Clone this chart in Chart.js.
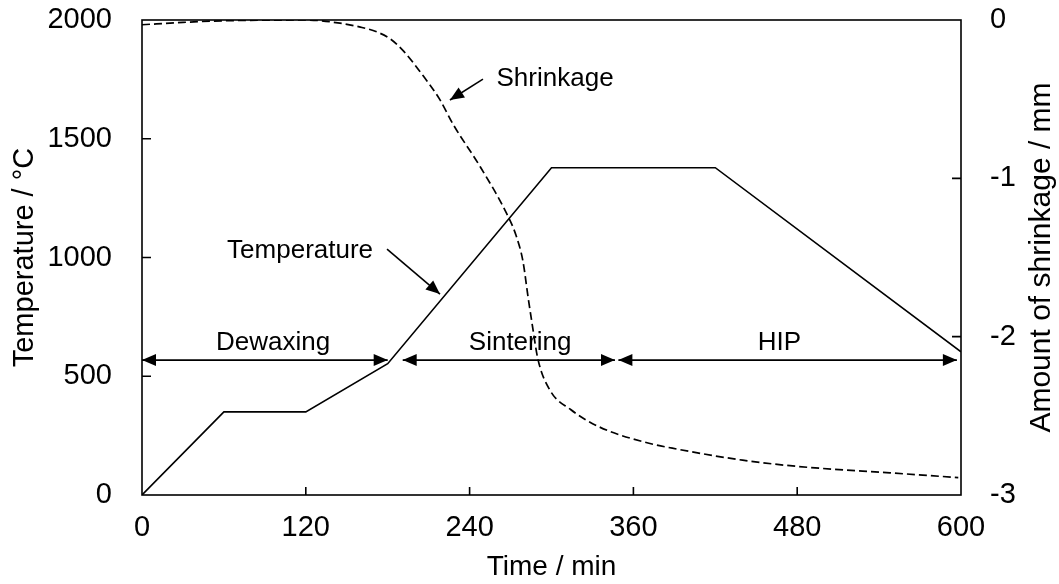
<!DOCTYPE html>
<html>
<head>
<meta charset="utf-8">
<script src="https://cdn.jsdelivr.net/npm/chart.js@4"></script>
<style>
  body { margin: 0; background: #fff; }
</style>
</head>
<body>
<canvas id="myChart" width="1059" height="584"></canvas>
<script>
// temperature profile (min, °C)
const tempTime = [0, 60, 120, 180, 300, 420, 600];
const tempValue = [0, 350, 350, 553, 1378, 1378, 603];

// shrinkage curve (min, mm)
const shrinkTime = [0, 30, 60, 120, 145, 160, 172, 182, 192, 204, 218, 228, 248, 267, 274, 279, 283, 286, 290, 299, 314, 335, 370, 392, 440, 481, 548, 598];
const shrinkValue = [-0.03, -0.015, -0.005, 0, -0.02, -0.045, -0.075, -0.12, -0.2, -0.33, -0.5, -0.66, -0.93, -1.22, -1.36, -1.52, -1.76, -1.93, -2.14, -2.34, -2.46, -2.57, -2.67, -2.71, -2.78, -2.82, -2.86, -2.89];

// process stages (double arrows)
const phaseNames = ['Dewaxing', 'Sintering', 'HIP'];
const phaseStart = [0, 191, 349];
const phaseEnd = [180, 346.5, 597];
const phaseTextX = [96, 277, 467];
const phaseLevel = 568;
const phaseTextLevel = 610;

const FAMILY = '"Liberation Sans", Arial, sans-serif';
const TICK_FONT = { family: FAMILY, size: 29 };
const NOTE_FONT = '26px ' + FAMILY;

function arrowHead(ctx, x1, y1, x2, y2) {
  const ang = Math.atan2(y2 - y1, x2 - x1);
  const len = 14, half = 6;
  ctx.beginPath();
  ctx.moveTo(x2, y2);
  ctx.lineTo(x2 - len * Math.cos(ang) + half * Math.sin(ang), y2 - len * Math.sin(ang) - half * Math.cos(ang));
  ctx.lineTo(x2 - len * Math.cos(ang) - half * Math.sin(ang), y2 - len * Math.sin(ang) + half * Math.cos(ang));
  ctx.closePath();
  ctx.fill();
}

function arrow(ctx, x1, y1, x2, y2, both) {
  ctx.beginPath();
  ctx.moveTo(x1, y1);
  ctx.lineTo(x2, y2);
  ctx.stroke();
  arrowHead(ctx, x1, y1, x2, y2);
  if (both) arrowHead(ctx, x2, y2, x1, y1);
}

const annotate = {
  id: 'annotate',
  afterDraw(chart) {
    const { ctx, chartArea: a, scales } = chart;
    const X = v => scales.x.getPixelForValue(v);
    const YT = v => scales.yT.getPixelForValue(v);
    ctx.save();
    ctx.strokeStyle = '#000';
    ctx.fillStyle = '#000';
    ctx.lineWidth = 1.6;
    ctx.setLineDash([]);

    // frame
    ctx.strokeRect(a.left, a.top, a.right - a.left, a.bottom - a.top);

    // inward tick marks
    ctx.beginPath();
    scales.x.ticks.forEach(t => {
      if (t.value > 0 && t.value < 600) {
        ctx.moveTo(X(t.value), a.bottom);
        ctx.lineTo(X(t.value), a.bottom - 8);
      }
    });
    scales.yT.ticks.forEach(t => {
      if (t.value > 0 && t.value < 2000) {
        ctx.moveTo(a.left, YT(t.value));
        ctx.lineTo(a.left + 9, YT(t.value));
      }
    });
    scales.yS.ticks.forEach(t => {
      if (t.value > -3 && t.value < 0) {
        const y = scales.yS.getPixelForValue(t.value);
        ctx.moveTo(a.right, y);
        ctx.lineTo(a.right - 9, y);
      }
    });
    ctx.stroke();

    // stage arrows and names
    ctx.font = NOTE_FONT;
    ctx.textAlign = 'center';
    ctx.textBaseline = 'alphabetic';
    phaseNames.forEach((name, i) => {
      arrow(ctx, X(phaseStart[i]), YT(phaseLevel), X(phaseEnd[i]), YT(phaseLevel), true);
      ctx.fillText(name, X(phaseTextX[i]), YT(phaseTextLevel));
    });

    // curve labels
    ctx.fillText('Temperature', X(115.8), YT(998));
    arrow(ctx, X(179.5), YT(1035), X(218.3), YT(846), false);
    ctx.fillText('Shrinkage', X(302.6), YT(1722));
    arrow(ctx, X(249.8), YT(1751), X(225.6), YT(1663), false);

    // right axis title, reading bottom to top
    ctx.font = '30px ' + FAMILY;
    ctx.textBaseline = 'middle';
    ctx.translate(1042, (a.top + a.bottom) / 2);
    ctx.rotate(-Math.PI / 2);
    ctx.fillText('Amount of shrinkage / mm', 0, 0);
    ctx.restore();
  }
};

const ctx = document.getElementById('myChart');

const chart = new Chart(ctx, {
  type: 'line',
  data: {
    datasets: [
      {
        label: 'Temperature',
        data: tempTime.map((t, i) => ({ x: t, y: tempValue[i] })),
        yAxisID: 'yT',
        borderColor: '#000',
        borderWidth: 1.6,
        pointRadius: 0,
        tension: 0
      },
      {
        label: 'Shrinkage',
        data: shrinkTime.map((t, i) => ({ x: t, y: shrinkValue[i] })),
        yAxisID: 'yS',
        borderColor: '#000',
        borderWidth: 1.7,
        borderDash: [8, 4],
        pointRadius: 0,
        cubicInterpolationMode: 'monotone'
      }
    ]
  },
  options: {
    responsive: false,
    animation: false,
    layout: { padding: { top: 20, left: 0, right: 0, bottom: 0 } },
    plugins: {
      legend: { display: false },
      tooltip: { enabled: false }
    },
    scales: {
      x: {
        type: 'linear',
        position: 'bottom',
        min: 0,
        max: 600,
        ticks: { stepSize: 120, padding: 2, font: TICK_FONT, color: '#000', maxRotation: 0, callback: v => String(v) },
        grid: { display: false, drawTicks: true, tickLength: 14 },
        border: { display: false },
        title: { display: true, text: 'Time / min', font: { family: FAMILY, size: 28 }, color: '#000', padding: { top: 0, bottom: 0 } },
        afterFit(s) { s.height = 89; }
      },
      yT: {
        type: 'linear',
        position: 'left',
        min: 0,
        max: 2000,
        ticks: { stepSize: 500, padding: 2, font: TICK_FONT, color: '#000', callback: v => String(v) },
        grid: { display: false, drawTicks: true, tickLength: 28 },
        border: { display: false },
        title: { display: true, text: 'Temperature / °C', font: { family: FAMILY, size: 29 }, color: '#000', padding: { top: 8, bottom: 0 } },
        afterFit(s) { s.width = 142; }
      },
      yS: {
        type: 'linear',
        position: 'right',
        min: -3,
        max: 0,
        ticks: { stepSize: 1, padding: 2, font: TICK_FONT, color: '#000', callback: v => String(v) },
        grid: { display: false, drawTicks: true, tickLength: 27 },
        border: { display: false },
        afterFit(s) { s.width = 98; }
      }
    }
  },
  plugins: [annotate]
});
</script>
</body>
</html>
